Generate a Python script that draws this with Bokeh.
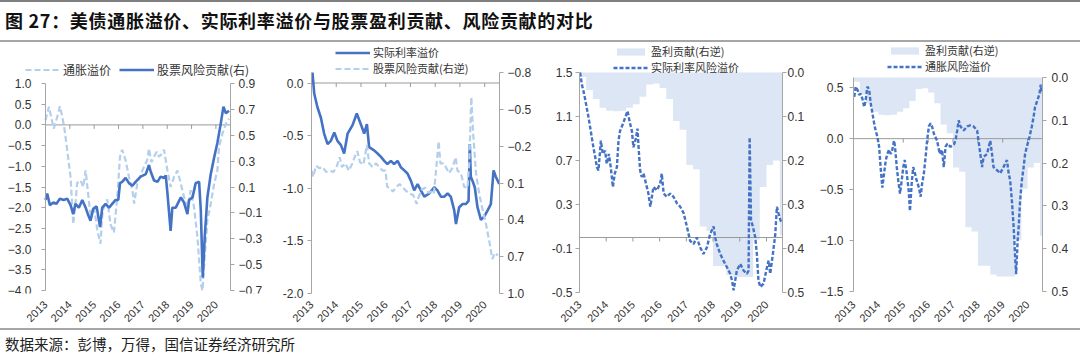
import math
from bokeh.plotting import figure
from bokeh.models import (Range1d, LinearAxis, FixedTicker, CustomJSTickFormatter,
                          Legend, LegendItem, Div)
from bokeh.layouts import row, column
from bokeh.embed import file_html
from bokeh.resources import INLINE

# ---------------- data ----------------
YEARS = [2013, 2014, 2015, 2016, 2017, 2018, 2019, 2020]

# 通胀溢价 (panel 1, left axis)
INFL_PREM = [
    (2013.00, 0.11), (2013.14, 0.44), (2013.21, 0.25), (2013.34, -0.09), (2013.41, 0.05),
    (2013.51, 0.25), (2013.59, 0.45), (2013.69, 0.20), (2013.78, -0.10), (2013.89, -0.60),
    (2014.03, -1.26), (2014.14, -2.40), (2014.23, -1.90), (2014.30, -1.40), (2014.44, -1.34),
    (2014.55, -1.50), (2014.65, -1.10), (2014.74, -1.60), (2014.85, -2.20), (2014.99, -1.95),
    (2015.13, -2.55), (2015.26, -2.87), (2015.33, -2.20), (2015.40, -1.98), (2015.54, -1.80),
    (2015.67, -2.40), (2015.81, -2.60), (2015.95, -1.74), (2016.06, -0.77), (2016.15, -0.60),
    (2016.29, -0.85), (2016.43, -1.26), (2016.57, -1.58), (2016.64, -1.90), (2016.77, -1.42),
    (2016.98, -1.10), (2017.18, -0.85), (2017.25, -0.57), (2017.35, -0.90), (2017.46, -0.77),
    (2017.57, -0.65), (2017.66, -0.77), (2017.77, -0.70), (2017.87, -0.60), (2018.01, -1.10),
    (2018.14, -1.50), (2018.28, -1.26), (2018.42, -1.10), (2018.56, -1.42), (2018.69, -1.74),
    (2018.83, -1.98), (2018.97, -1.58), (2019.10, -1.98), (2019.24, -2.70), (2019.38, -3.84),
    (2019.45, -4.00), (2019.54, -3.20), (2019.65, -2.30), (2019.79, -1.90), (2019.93, -1.42),
    (2020.06, -1.10), (2020.13, -0.53), (2020.27, -0.21), (2020.41, 0.03), (2020.54, 0.15),
]

# 股票风险贡献 (panel 1 right axis, panel 2 right reversed axis)
STOCK_RISK = [
    (2013.00, 0.00), (2013.07, 0.05), (2013.18, -0.04), (2013.32, -0.02), (2013.45, -0.03),
    (2013.59, 0.01), (2013.75, 0.00), (2013.89, 0.01), (2014.03, -0.04), (2014.14, -0.11),
    (2014.23, -0.03), (2014.37, -0.06), (2014.51, 0.00), (2014.65, -0.06), (2014.74, -0.11),
    (2014.85, -0.16), (2014.96, -0.07), (2015.10, -0.05), (2015.24, -0.21), (2015.33, -0.06),
    (2015.47, -0.03), (2015.61, -0.06), (2015.74, -0.03), (2015.88, 0.00), (2015.99, 0.00),
    (2016.06, 0.13), (2016.15, 0.14), (2016.29, 0.17), (2016.43, 0.13), (2016.57, 0.11),
    (2016.70, 0.14), (2016.91, 0.18), (2017.12, 0.20), (2017.25, 0.27), (2017.32, 0.22),
    (2017.46, 0.15), (2017.60, 0.14), (2017.73, 0.18), (2017.87, 0.17), (2017.94, 0.19),
    (2018.01, 0.05), (2018.14, -0.24), (2018.21, -0.06), (2018.35, -0.06), (2018.56, 0.02),
    (2018.69, -0.02), (2018.83, -0.11), (2018.90, 0.00), (2019.04, 0.02), (2019.17, 0.13),
    (2019.31, 0.14), (2019.38, -0.08), (2019.46, -0.60), (2019.54, -0.29), (2019.65, 0.02),
    (2019.79, 0.20), (2019.93, 0.33), (2020.06, 0.44), (2020.20, 0.59), (2020.31, 0.72),
    (2020.41, 0.67), (2020.54, 0.69),
]

# 实际利率溢价 (panel 2, left axis)
REAL_PREM = [
    (2013.04, 0.10), (2013.11, -0.10), (2013.24, -0.23), (2013.38, -0.33), (2013.51, -0.48),
    (2013.65, -0.58), (2013.78, -0.55), (2013.92, -0.47), (2014.05, -0.55), (2014.19, -0.59),
    (2014.32, -0.67), (2014.46, -0.48), (2014.66, -0.40), (2014.83, -0.29), (2014.99, -0.39),
    (2015.13, -0.48), (2015.24, -0.39), (2015.33, -0.61), (2015.53, -0.64), (2015.67, -0.67),
    (2015.80, -0.70), (2015.94, -0.74), (2016.07, -0.77), (2016.21, -0.74), (2016.34, -0.77),
    (2016.48, -0.74), (2016.61, -0.80), (2016.75, -0.83), (2016.88, -0.86), (2017.02, -0.93),
    (2017.15, -1.02), (2017.29, -0.96), (2017.42, -1.02), (2017.56, -1.08), (2017.76, -1.05),
    (2017.96, -0.99), (2018.09, -1.02), (2018.23, -1.08), (2018.36, -1.08), (2018.50, -1.05),
    (2018.63, -1.08), (2018.77, -1.21), (2018.84, -1.34), (2018.97, -1.18), (2019.11, -1.15),
    (2019.24, -1.15), (2019.35, -1.12), (2019.40, -0.58), (2019.44, -0.89), (2019.51, -0.93),
    (2019.60, -0.99), (2019.71, -1.18), (2019.85, -1.30), (2019.98, -1.27), (2020.12, -1.21),
    (2020.25, -1.15), (2020.36, -0.83), (2020.45, -0.89), (2020.59, -0.96),
]

# 实际利率风险溢价 (panel 3, left axis)
REAL_RISK_PREM = [
    (2013.02, 1.50), (2013.09, 1.39), (2013.15, 1.33), (2013.21, 1.26), (2013.27, 1.18),
    (2013.34, 1.09), (2013.40, 1.00), (2013.46, 0.91), (2013.52, 0.82), (2013.59, 0.73),
    (2013.65, 0.64), (2013.71, 0.61), (2013.80, 0.88), (2013.87, 0.76), (2013.96, 0.79),
    (2014.02, 0.67), (2014.10, 0.76), (2014.17, 0.64), (2014.25, 0.46), (2014.32, 0.58),
    (2014.40, 0.64), (2014.46, 0.88), (2014.52, 0.97), (2014.62, 1.03), (2014.71, 1.09),
    (2014.80, 1.15), (2014.87, 1.06), (2014.96, 0.97), (2015.02, 0.82), (2015.12, 0.91),
    (2015.17, 0.99), (2015.22, 0.79), (2015.27, 0.61), (2015.33, 0.55), (2015.40, 0.58),
    (2015.46, 0.52), (2015.52, 0.46), (2015.58, 0.40), (2015.65, 0.28), (2015.71, 0.37),
    (2015.77, 0.46), (2015.90, 0.43), (2016.02, 0.49), (2016.08, 0.58), (2016.15, 0.40),
    (2016.27, 0.37), (2016.40, 0.40), (2016.52, 0.37), (2016.65, 0.31), (2016.77, 0.28),
    (2016.90, 0.22), (2017.02, 0.10), (2017.14, -0.03), (2017.27, -0.06), (2017.39, 0.00),
    (2017.52, -0.09), (2017.64, -0.15), (2017.77, -0.09), (2017.89, 0.03), (2018.02, 0.10),
    (2018.08, 0.00), (2018.14, -0.06), (2018.27, -0.15), (2018.39, -0.21), (2018.52, -0.27),
    (2018.64, -0.33), (2018.71, -0.39), (2018.77, -0.48), (2018.83, -0.39), (2018.89, -0.30),
    (2019.02, -0.24), (2019.14, -0.30), (2019.27, -0.33), (2019.33, -0.30), (2019.37, 0.91),
    (2019.42, 0.16), (2019.49, 0.10), (2019.58, 0.00), (2019.64, -0.15), (2019.70, -0.39),
    (2019.77, -0.45), (2019.89, -0.42), (2020.02, -0.27), (2020.08, -0.21), (2020.14, -0.33),
    (2020.24, -0.15), (2020.33, 0.03), (2020.39, 0.28), (2020.45, 0.22), (2020.52, 0.16),
    (2020.58, 0.13),
]

# 通胀风险溢价 (panel 4, left axis)
INFL_RISK_PREM = [
    (2013.03, 0.41), (2013.09, 0.51), (2013.16, 0.48), (2013.23, 0.43), (2013.29, 0.44),
    (2013.36, 0.39), (2013.43, 0.31), (2013.49, 0.38), (2013.56, 0.51), (2013.63, 0.48),
    (2013.69, 0.35), (2013.76, 0.25), (2013.83, 0.15), (2013.89, 0.08), (2013.96, 0.02),
    (2014.03, -0.08), (2014.09, -0.28), (2014.16, -0.48), (2014.23, -0.34), (2014.30, -0.21),
    (2014.36, -0.15), (2014.43, -0.11), (2014.50, -0.15), (2014.56, -0.11), (2014.63, -0.02),
    (2014.67, -0.08), (2014.74, -0.28), (2014.80, -0.41), (2014.87, -0.54), (2014.94, -0.41),
    (2015.00, -0.28), (2015.06, -0.21), (2015.14, -0.34), (2015.22, -0.51), (2015.27, -0.71),
    (2015.34, -0.44), (2015.40, -0.28), (2015.47, -0.34), (2015.54, -0.41), (2015.63, -0.48),
    (2015.70, -0.57), (2015.76, -0.44), (2015.83, -0.34), (2015.90, -0.18), (2015.96, -0.02),
    (2016.03, 0.12), (2016.10, 0.15), (2016.16, 0.12), (2016.23, 0.05), (2016.36, -0.02),
    (2016.47, -0.15), (2016.56, -0.11), (2016.63, -0.28), (2016.70, -0.08), (2016.77, -0.05),
    (2016.90, -0.08), (2017.03, -0.06), (2017.10, -0.02), (2017.17, 0.08), (2017.23, 0.18),
    (2017.30, 0.12), (2017.43, 0.08), (2017.57, 0.12), (2017.70, 0.13), (2017.83, 0.12),
    (2017.97, 0.08), (2018.10, -0.15), (2018.17, -0.28), (2018.23, -0.18), (2018.37, -0.15),
    (2018.50, -0.02), (2018.57, -0.15), (2018.63, -0.28), (2018.77, -0.31), (2018.90, -0.34),
    (2019.03, -0.28), (2019.17, -0.21), (2019.24, -0.34), (2019.30, -0.41), (2019.37, -0.61),
    (2019.44, -0.87), (2019.50, -1.16), (2019.54, -1.33), (2019.60, -1.00), (2019.64, -0.87),
    (2019.70, -0.61), (2019.77, -0.41), (2019.84, -0.28), (2019.90, -0.15), (2019.97, -0.08),
    (2020.08, 0.02), (2020.17, 0.12), (2020.24, 0.21), (2020.30, 0.31), (2020.40, 0.38),
    (2020.48, 0.44), (2020.53, 0.53), (2020.57, 0.44),
]

# 盈利贡献 (quarterly, right reversed axis in panels 3 and 4)
EARNINGS = [
    (2013.00, 0.010), (2013.25, 0.040), (2013.50, 0.060), (2013.75, 0.080), (2014.00, 0.087),
    (2014.25, 0.088), (2014.50, 0.087), (2014.75, 0.080), (2015.00, 0.072), (2015.25, 0.055),
    (2015.50, 0.027), (2015.75, 0.025), (2016.00, 0.035), (2016.25, 0.060), (2016.50, 0.110),
    (2016.75, 0.130), (2017.00, 0.210), (2017.25, 0.220), (2017.50, 0.350), (2017.75, 0.360),
    (2018.00, 0.440), (2018.25, 0.440), (2018.50, 0.460), (2018.75, 0.465), (2019.00, 0.465),
    (2019.25, 0.465), (2019.50, 0.380), (2019.75, 0.260), (2020.00, 0.210), (2020.25, 0.200),
    (2020.50, 0.370),
]
DATA_START, DATA_END = 2013.0, 2020.6

P1_LEFT_TICKS = [-4.0, -3.5, -3.0, -2.5, -2.0, -1.5, -1.0, -0.5, 0.0, 0.5, 1.0]
P1_RIGHT_TICKS = [-0.7, -0.5, -0.3, -0.1, 0.1, 0.3, 0.5, 0.7, 0.9]
P2_LEFT_TICKS = [-2.0, -1.5, -1.0, -0.5, 0.0]
P2_RIGHT_TICKS = [-0.8, -0.5, -0.2, 0.1, 0.4, 0.7, 1.0]
P3_LEFT_TICKS = [-0.5, -0.1, 0.3, 0.7, 1.1, 1.5]
P34_RIGHT_TICKS = [0.0, 0.1, 0.2, 0.3, 0.4, 0.5]
P4_LEFT_TICKS = [-1.5, -1.0, -0.5, 0.0, 0.5]

TITLE = "图 27：美债通胀溢价、实际利率溢价与股票盈利贡献、风险贡献的对比"
SOURCE = "数据来源：彭博，万得，国信证券经济研究所"

# ---------------- styling ----------------
DARK = "#4472c4"
LIGHT = "#b4cfec"
AREA = "#dce6f4"
AXC = "#a6a6a6"
ZERO = "#9a9a9a"
TXT = "#333333"
NUM_FONT = "Liberation Sans"
CJK = "Noto Sans CJK SC"

ROW_TOP = 42
FRAME_TOP, FRAME_BOT = 42, 293      # page pixel rows of every plot frame
ROW_BOT = 325


def unzip(pairs):
    return [a for a, _ in pairs], [b for _, b in pairs]


def fmt(minus):
    return CustomJSTickFormatter(args=dict(m=minus), code="""
        let s = (Math.abs(tick) < 1e-9 ? 0 : tick).toFixed(1);
        return s.replace('-', m);""")


def range_for(v_top, y_top, v_bot, y_bot):
    """Range whose v_top / v_bot fall at page rows y_top / y_bot of the frame."""
    k = (v_bot - v_top) / (y_bot - y_top)
    return Range1d(start=v_top + (FRAME_BOT - y_top) * k,
                   end=v_top + (FRAME_TOP - y_top) * k), k


def style_y(ax, ticks, minus, standoff, bounds):
    ax.ticker = FixedTicker(ticks=ticks)
    ax.formatter = fmt(minus)
    ax.bounds = bounds
    ax.axis_line_color = AXC
    ax.axis_line_width = 1
    ax.major_tick_line_color = AXC
    ax.major_tick_out = 4
    ax.major_tick_in = 0
    ax.minor_tick_line_color = None
    ax.major_label_text_font = NUM_FONT
    ax.major_label_text_font_size = "12px"
    ax.major_label_text_color = TXT
    ax.major_label_standoff = standoff


def make_fig(x_left_px, x_axis_l, x_axis_r, x_right_px, fig_left, left_spec, right_spec,
             lminus, rminus, ls, rs, fixed=False):
    # x scale: DATA_START at page col x_axis_l, DATA_END at x_axis_r
    kx = (DATA_END - DATA_START) / (x_axis_r - x_axis_l)
    xr = Range1d(DATA_START - (x_axis_l - x_left_px) * kx,
                 DATA_END + (x_right_px - x_axis_r) * kx)
    yl, kl = range_for(*left_spec[:4])
    yr, kr = range_for(*right_spec[:4])
    p = figure(frame_width=x_right_px - x_left_px, frame_height=FRAME_BOT - FRAME_TOP,
               min_border_left=x_left_px - fig_left, min_border_right=fig_left + 270 - x_right_px,
               min_border_top=FRAME_TOP - ROW_TOP, min_border_bottom=ROW_BOT - FRAME_BOT,
               x_range=xr, y_range=yl,
               output_backend="svg", toolbar_location=None, title=None,
               background_fill_color="white", border_fill_color="white",
               outline_line_color=None)
    p.grid.visible = False
    p.extra_y_ranges = {"r": yr}
    style_y(p.yaxis[0], left_spec[4], lminus, ls, left_spec[5])
    rax = LinearAxis(y_range_name="r")
    style_y(rax, right_spec[4], rminus, rs, right_spec[5])
    if fixed:
        p.yaxis[0].fixed_location = DATA_START
        rax.fixed_location = DATA_END
    p.add_layout(rax, "right")
    xa = p.xaxis[0]
    xa.ticker = FixedTicker(ticks=YEARS)
    xa.axis_line_color = None
    xa.major_tick_line_color = None
    xa.minor_tick_line_color = None
    xa.major_label_orientation = math.pi / 4
    xa.major_label_standoff = 3
    xa.major_label_text_font = NUM_FONT
    xa.major_label_text_font_size = "11px"
    xa.major_label_text_color = TXT
    # horizontal category axis crossing at 0 with small year ticks
    p.segment(x0=[DATA_START], y0=[0], x1=[DATA_END], y1=[0], line_color=ZERO, line_width=1)
    tl = 4.0 * abs(kl)
    xs = YEARS[1:]
    p.segment(x0=xs, y0=[0] * len(xs), x1=xs, y1=[-tl] * len(xs), line_color=ZERO, line_width=1)
    return p


def add_legend(p, items, x, row_center, size="11px", orientation="horizontal", spacing=0):
    # row_center: page row of the legend text centre; location is bottom-left in frame units
    lg = Legend(items=items, location=(x, FRAME_BOT - row_center - 8),
                orientation=orientation, spacing=spacing,
                padding=0, margin=0, border_line_color=None, background_fill_alpha=0,
                label_text_font=CJK, label_text_font_size=size, label_text_color=TXT,
                glyph_width=35, glyph_height=9, label_standoff=3, label_height=12)
    p.add_layout(lg)


def step_xy(pairs, end):
    xs, ys = [], []
    for i, (tq, vq) in enumerate(pairs):
        nxt = pairs[i + 1][0] if i + 1 < len(pairs) else end
        xs += [tq, nxt]
        ys += [vq, vq]
    return xs, ys


# ---------------- panel 1 ----------------
P1_FRAME_L = 2
p1 = make_fig(P1_FRAME_L, 45, 230, 268, 0,
              (1.0, 83, -4.0, 290, P1_LEFT_TICKS, (-4.0, 1.0)),
              (0.9, 83, -0.7, 290, P1_RIGHT_TICKS, (-0.7, 0.9)),
              "\u2212", "\u2212", 10, 4, fixed=True)
t, v = unzip(INFL_PREM)
r1a = p1.line(t, v, line_color=LIGHT, line_width=2.2, line_dash="6 3")
t, v = unzip(STOCK_RISK)
r1b = p1.line(t, v, line_color=DARK, line_width=2.6, y_range_name="r")
add_legend(p1, [LegendItem(label="通胀溢价", renderers=[r1a]),
                LegendItem(label="股票风险贡献(右)", renderers=[r1b])],
           25 - P1_FRAME_L, 70, size="12px", spacing=8)

# ---------------- panel 2 ----------------
p2 = make_fig(311, 311, 499, 499, 270,
              (0.1, 72, -2.0, 293, P2_LEFT_TICKS, (-2.0, 0.1)),
              (-0.8, 72, 1.0, 293, P2_RIGHT_TICKS, (-0.8, 1.0)),
              "-", "\u2212", 4, 4)
t, v = unzip(REAL_PREM)
r2a = p2.line(t, v, line_color=DARK, line_width=2.6)
t, v = unzip(STOCK_RISK)
r2b = p2.line(t, v, line_color=LIGHT, line_width=2.2, line_dash="6 3", y_range_name="r")
add_legend(p2, [LegendItem(label="实际利率溢价", renderers=[r2a])], 24, 52)
add_legend(p2, [LegendItem(label="股票风险贡献(右逆)", renderers=[r2b])], 24, 68)

sx, sy = step_xy(EARNINGS, DATA_END)

# ---------------- panel 3 ----------------
p3 = make_fig(579, 579, 782, 782, 540,
              (1.5, 72, -0.5, 292, P3_LEFT_TICKS, (-0.5, 1.5)),
              (0.0, 72, 0.5, 292, P34_RIGHT_TICKS, (0.0, 0.5)),
              "-", "\u2212", 3, 1)
r3a = p3.varea(x=sx, y1=[0.0] * len(sx), y2=sy, fill_color=AREA, y_range_name="r", level="underlay")
t, v = unzip(REAL_RISK_PREM)
r3b = p3.line(t, v, line_color=DARK, line_width=2.4, line_dash="4 2")
add_legend(p3, [LegendItem(label="盈利贡献(右逆)", renderers=[r3a])], 34, 51)
add_legend(p3, [LegendItem(label="实际利率风险溢价", renderers=[r3b])], 34, 67)

# ---------------- panel 4 ----------------
p4 = make_fig(853, 853, 1042, 1042, 810,
              (0.6, 77, -1.5, 291, P4_LEFT_TICKS, (-1.5, 0.6)),
              (0.0, 77, 0.5, 291, P34_RIGHT_TICKS, (0.0, 0.5)),
              "\u2212", "\u2212", 6, 5)
r4a = p4.varea(x=sx, y1=[0.0] * len(sx), y2=sy, fill_color=AREA, y_range_name="r", level="underlay")
t, v = unzip(INFL_RISK_PREM)
r4b = p4.line(t, v, line_color=DARK, line_width=2.4, line_dash="4 2")
add_legend(p4, [LegendItem(label="盈利贡献(右逆)", renderers=[r4a])], 34, 50)
add_legend(p4, [LegendItem(label="通胀风险溢价", renderers=[r4b])], 34, 66)

# ---------------- title / footer ----------------
title = Div(width=1080, height=42, margin=0, text=(
    '<div style="width:1080px;height:42px;box-sizing:border-box;'
    'border-top:2px solid #7f7f7f;border-bottom:2px solid #a6a6a6;'
    'padding-left:5px;font-family:\'Noto Sans CJK SC\';font-weight:bold;'
    'font-size:18px;letter-spacing:0.7px;line-height:37px;color:#111;white-space:nowrap;">'
    + TITLE + '</div>'))
footer = Div(width=1080, height=28, margin=0, text=(
    '<div style="width:1080px;height:28px;box-sizing:border-box;'
    'border-top:2px solid #a6a6a6;padding-left:5px;'
    'font-family:\'Noto Sans CJK SC\';font-size:14.5px;line-height:28px;'
    'color:#222;white-space:nowrap;">' + SOURCE + '</div>'))

layout = column(title, row(p1, p2, p3, p4, spacing=0), footer, spacing=0)

with open("out.html", "w") as f:
    f.write(file_html(layout, INLINE))
